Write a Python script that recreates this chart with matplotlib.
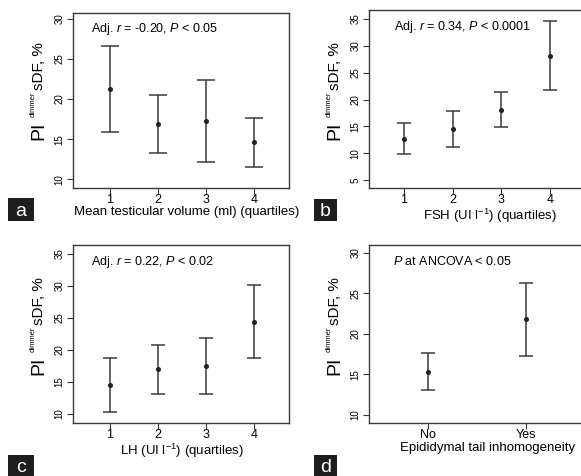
import matplotlib
matplotlib.use("Agg")
import matplotlib.pyplot as plt
import matplotlib.transforms as mtransforms
from matplotlib.patches import Rectangle

plt.rcParams['font.family'] = ['Liberation Sans', 'DejaVu Sans']
plt.rcParams['mathtext.fontset'] = 'custom'
plt.rcParams['mathtext.rm'] = 'Liberation Sans'
plt.rcParams['mathtext.it'] = 'Liberation Sans:italic'

# panel a: mean testicular volume quartiles
a_x = [1, 2, 3, 4]
a_mean = [21.2, 16.9, 17.3, 14.6]
a_low = [15.9, 13.3, 12.2, 11.5]
a_high = [26.6, 20.5, 22.4, 17.6]

# panel b: FSH quartiles
b_x = [1, 2, 3, 4]
b_mean = [12.7, 14.5, 18.1, 28.2]
b_low = [9.8, 11.1, 14.8, 21.7]
b_high = [15.7, 17.9, 21.4, 34.7]

# panel c: LH quartiles
c_x = [1, 2, 3, 4]
c_mean = [14.5, 17.0, 17.5, 24.4]
c_low = [10.3, 13.2, 13.1, 18.7]
c_high = [18.7, 20.8, 21.8, 30.2]

# panel d: epididymal tail inhomogeneity
d_x = [1, 2]
d_labels = ["No", "Yes"]
d_mean = [15.3, 21.8]
d_low = [13.0, 17.2]
d_high = [17.6, 26.3]

W, H = 581, 476
fig = plt.figure(figsize=(W / 100, H / 100), dpi=100)

LINE = '#3a3a3a'


def px_axes(left, top, width, height):
    return fig.add_axes([left / W, (H - top - height) / H, width / W, height / H])


def panel(ax, x, mean, low, high, cap, yticks, ylim, xlim, xlabel, xlab_x, note, note_x):
    yerr = [[m - l for m, l in zip(mean, low)], [h - m for m, h in zip(mean, high)]]
    ax.errorbar(x, mean, yerr=yerr, fmt='o', color=LINE, ecolor=LINE, ms=2.6,
                mfc='#222222', mec='#222222', elinewidth=1.1, capsize=cap, capthick=1.1)
    ax.set_xlim(*xlim)
    ax.set_ylim(*ylim)
    ax.set_yticks(yticks)
    ax.set_xticks(x)
    ax.tick_params(axis='y', labelrotation=90, labelsize=7, length=4, width=0.8,
                   pad=2, color=LINE)
    ax.tick_params(axis='x', labelsize=9, length=4, width=0.8, pad=0.5, color=LINE)
    for yl in ax.get_yticklabels():
        yl.set_va('center')
    for s in ax.spines.values():
        s.set_color(LINE)
        s.set_linewidth(1.0)
    ax.set_xlabel(xlabel, fontsize=9.5, va='top')
    ax.xaxis.set_label_coords(xlab_x, -0.105)
    ax.text(note_x, 0.89, note, transform=ax.transAxes, fontsize=9, va='baseline')

    # y label: PI ^dimmer sDF, %
    for s, size, dx, dy in [("PI", 14, -30, 48), ("dimmer", 5.5, -38, 71), ("sDF, %", 11, -30, 98)]:
        tr = mtransforms.offset_copy(ax.transAxes, fig=fig, x=dx, y=dy, units='dots')
        ax.text(0, 0, s, transform=tr, fontsize=size, rotation=90,
                rotation_mode='anchor', ha='left', va='baseline')


def tag(letter, x0, y0, x1, y1):
    fig.add_artist(Rectangle((x0 / W, (H - y1) / H), (x1 - x0) / W, (y1 - y0) / H,
                             transform=fig.transFigure, color='#1e1e1e', lw=0))
    fig.text((x0 + x1) / 2 / W, (H - (y0 + y1) / 2) / H, letter, color='white',
             fontsize=14, ha='center', va='center_baseline')


ax_a = px_axes(73, 13, 216, 175)
panel(ax_a, a_x, a_mean, a_low, a_high, 6.5, [10, 15, 20, 25, 30], (8.9, 30.75),
      (0.23, 4.73), "Mean testicular volume (ml) (quartiles)", 0.528,
      r"Adj. $\it{r}$ = -0.20, $\it{P}$ < 0.05", 0.083)

ax_b = px_axes(369, 10, 216, 178)
panel(ax_b, b_x, b_mean, b_low, b_high, 4.7, [5, 10, 15, 20, 25, 30, 35], (3.5, 36.7),
      (0.28, 4.72), r"FSH (UI l$^{\mathregular{-1}}$) (quartiles)", 0.56,
      r"Adj. $\it{r}$ = 0.34, $\it{P}$ < 0.0001", 0.116)

ax_c = px_axes(73, 245, 216, 178)
panel(ax_c, c_x, c_mean, c_low, c_high, 4.7, [10, 15, 20, 25, 30, 35], (8.6, 36.4),
      (0.23, 4.73), r"LH (UI l$^{\mathregular{-1}}$) (quartiles)", 0.505,
      r"Adj. $\it{r}$ = 0.22, $\it{P}$ < 0.02", 0.083)

ax_d = px_axes(369, 245, 216, 178)
panel(ax_d, d_x, d_mean, d_low, d_high, 4.7, [10, 15, 20, 25, 30], (8.96, 31.0),
      (0.4, 2.6), "Epididymal tail inhomogeneity", 0.55,
      r"$\it{P}$ at ANCOVA < 0.05", 0.113)
ax_d.set_xticklabels(d_labels)

tag("a", 8, 198, 34, 221)
tag("b", 314, 199, 337, 221)
tag("c", 8, 455, 34, 476)
tag("d", 314, 455, 337, 476)

fig.savefig("out.png", dpi=100)
